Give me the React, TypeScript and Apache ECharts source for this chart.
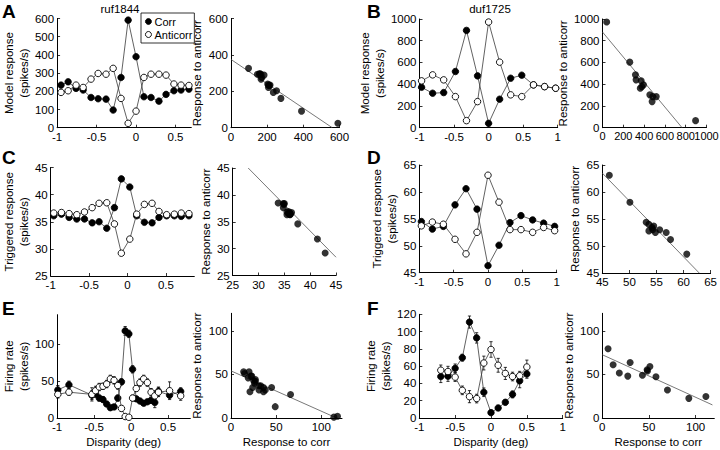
import React, { useEffect, useRef } from 'react';
import * as echarts from 'echarts';

// ---------- data ----------
const dispA = [-0.95, -0.86, -0.76, -0.67, -0.57, -0.48, -0.38, -0.29, -0.19, -0.1, 0, 0.1, 0.19, 0.29, 0.38, 0.48, 0.57, 0.67];
const corrA = [234, 252, 216, 207, 166, 159, 157, 97, 276, 591, 390, 170, 166, 146, 183, 203, 207, 212];
const antiA = [194, 203, 234, 221, 267, 298, 294, 326, 161, 24, 91, 276, 294, 294, 289, 240, 234, 232];
const fitA = [[0, 375], [560, 0]];

const dispB = [-0.97, -0.81, -0.65, -0.48, -0.32, -0.16, 0, 0.16, 0.32, 0.48, 0.65, 0.81, 0.97];
const corrB = [372, 317, 323, 517, 895, 477, 40, 262, 455, 483, 394, 378, 363];
const antiB = [431, 486, 440, 286, 65, 240, 972, 603, 302, 286, 394, 378, 363];
const fitB = [[0, 880], [765, 0]];
const ticksBScatterX = [0, 200, 400, 600, 800, 1000];

const dispC = [-0.96, -0.86, -0.76, -0.66, -0.56, -0.46, -0.37, -0.27, -0.17, -0.08, 0.03, 0.12, 0.22, 0.32, 0.41, 0.51, 0.61, 0.7, 0.8];
const corrC = [36.1, 36.4, 35.8, 35.5, 35.5, 34.8, 35.0, 33.8, 37.6, 42.9, 41.4, 36.1, 34.9, 34.8, 35.8, 36.1, 36.1, 36.0, 36.1];
const antiC = [36.6, 36.7, 36.5, 36.3, 36.8, 37.6, 38.4, 38.5, 34.6, 29.2, 31.8, 36.4, 38.2, 38.4, 36.9, 36.3, 36.4, 36.6, 36.5];
const fitC = [[28, 45], [45, 28.4]];

const dispD = [-0.97, -0.81, -0.65, -0.48, -0.32, -0.16, 0, 0.16, 0.32, 0.48, 0.65, 0.81, 0.97];
const corrD = [54.5, 53.1, 53.6, 57.6, 60.6, 56.8, 46.3, 50.1, 54.3, 55.6, 54.8, 54.2, 53.6];
const antiD = [53.7, 54.4, 54.0, 51.2, 48.5, 52.5, 63.1, 58.1, 53.0, 53.0, 52.5, 53.4, 52.8];
const fitD = [[45, 63.5], [62.9, 45]];

const dispE = [-0.99, -0.84, -0.53, -0.48, -0.43, -0.38, -0.33, -0.28, -0.23, -0.18, -0.13, -0.08, -0.03, 0.02, 0.07, 0.12, 0.17, 0.22, 0.27, 0.32, 0.37, 0.52, 0.67];
const corrE = [38, 45, 31, 33, 27, 25, 19, 14, 15, 27, 49, 118, 114, 66, 26, 23, 20, 22, 24, 21, 36, 31, 36];
const antiE = [32, 35, 32, 37, 42, 43, 46, 53, 51, 44, 13, 2, 1, 27, 40, 48, 53, 48, 35, 30, 35, 37, 30];
const errCorrE = [6, 5, 6, 5, 4, 4, 3, 3, 3, 4, 4, 6, 5, 5, 3, 3, 3, 3, 4, 7, 6, 4, 5];
const errAntiE = [5, 4, 9, 6, 5, 4, 5, 5, 5, 5, 4, 3, 2, 4, 4, 5, 5, 5, 5, 7, 6, 12, 6];
const fitE = [[0, 54], [117, 0]];

const dispF = [-0.7, -0.6, -0.5, -0.4, -0.3, -0.2, -0.1, 0, 0.1, 0.2, 0.3, 0.4, 0.5];
const corrF = [48, 48.4, 57.5, 69.8, 111, 92.7, 29.8, 6.2, 11.6, 18.2, 27.3, 43, 51];
const antiF = [55.3, 53.8, 47.3, 32, 24.7, 22.5, 63.6, 79.3, 61, 51.6, 48, 49, 59];
const errCorrF = [7, 6, 5, 4, 7, 6, 5, 2, 3, 3, 4, 8, 5];
const errAntiF = [6, 6, 5, 5, 7, 5, 8, 9, 8, 7, 5, 5, 8];
const fitF = [[0, 72.5], [118, 15]];

const titles = ['ruf1844', 'duf1725'];
const letters = ['A', 'B', 'C', 'D', 'E', 'F'];

const FONT = '"Liberation Sans", Arial, Helvetica, sans-serif';

const zip = (a: number[], b: number[]) => a.map((v, i) => [v, b[i]]);

export default function App() {
  const ref = useRef<HTMLDivElement>(null);
  useEffect(() => {
    if (!ref.current) return;
    const chart = echarts.init(ref.current, undefined, { renderer: 'svg' });

    type P = {
      left: number; top: number; width: number; height: number;
      x: number[]; y: number[]; yName: string; xName?: string; xLabelsOwn?: boolean;
    };
    const L1 = 'Model response\n(spikes/s)';
    const L2 = 'Triggered response\n(spikes/s)';
    const L3 = 'Firing rate\n(spikes/s)';
    const SN = 'Response to anticorr';
    const panels: P[] = [
      { left: 49.5, top: 18.5, width: 141.8, height: 109.2, x: [-1, 0.7, 0.5], y: [0, 600, 100], yName: L1 },
      { left: 231, top: 18.5, width: 108.5, height: 109.2, x: [0, 600, 200], y: [0, 600, 200], yName: SN },
      { left: 419.5, top: 19, width: 138.2, height: 108.7, x: [-1, 1, 0.5], y: [0, 1000, 200], yName: L1 },
      { left: 602.5, top: 19, width: 104, height: 108.7, x: [0, 1000, 200], y: [0, 1000, 200], yName: SN, xLabelsOwn: true },
      { left: 49.3, top: 167.5, width: 145, height: 108.5, x: [-1, 0.87, 0.5], y: [25, 45, 5], yName: L2 },
      { left: 232.7, top: 168, width: 103.3, height: 107.5, x: [25, 45, 5], y: [25, 45, 5], yName: SN },
      { left: 419.3, top: 165, width: 137.4, height: 107.7, x: [-1, 1, 0.5], y: [45, 65, 5], yName: L2 },
      { left: 602.3, top: 165, width: 109.4, height: 108, x: [45, 65, 5], y: [45, 65, 5], yName: SN },
      { left: 49.3, top: 314.7, width: 141, height: 109.6, x: [-1, 0.8, 0.5], y: [0, 140, 50], yName: L3, xName: 'Disparity (deg)' },
      { left: 231, top: 313.3, width: 111, height: 108.4, x: [0, 123, 50], y: [0, 120, 50], yName: SN, xName: 'Response to corr' },
      { left: 419.3, top: 314.3, width: 143.4, height: 109.7, x: [-1, 1, 0.5], y: [0, 120, 20], yName: L3, xName: 'Disparity (deg)' },
      { left: 602.3, top: 313.3, width: 112, height: 110, x: [0, 120, 50], y: [0, 120, 50], yName: SN, xName: 'Response to corr' },
    ];

    const isMult = (v: number, s: number) => Math.abs(v / s - Math.round(v / s)) < 1e-6;
    const tick = { show: true, inside: true, length: 3, interval: 0, lineStyle: { color: '#000', width: 0.8 } };
    const axLine = { show: true, onZero: false, lineStyle: { color: '#000', width: 1 } };
    const lab = (margin: number, max: number, step: number, show = true) => ({
      show, color: '#000', fontFamily: FONT, fontSize: 11.5, margin, hideOverlap: false, interval: 0,
      showMaxLabel: isMult(max, step) ? true : false,
      formatter: (v: number) => String(Math.round(v * 1000) / 1000),
    });
    const nameStyle = { color: '#000', fontFamily: FONT, fontSize: 11.5, lineHeight: 15 };

    const grid = panels.map((p) => ({ left: p.left, top: p.top, width: p.width, height: p.height, containLabel: false }));
    const xAxis = panels.map((p, i) => ({
      type: 'value', gridIndex: i, min: p.x[0], max: p.x[1], interval: p.x[2],
      axisLine: axLine, axisTick: tick, axisLabel: lab(3, p.x[1], p.x[2], !p.xLabelsOwn), splitLine: { show: false },
      name: p.xName || '', nameLocation: 'middle', nameGap: 16, nameTextStyle: nameStyle,
    }));
    const yAxis = panels.map((p, i) => ({
      type: 'value', gridIndex: i, min: p.y[0], max: p.y[1], interval: p.y[2],
      axisLine: axLine, axisTick: tick, axisLabel: lab(3, p.y[1], p.y[2]), splitLine: { show: false },
      name: p.yName, nameLocation: 'middle', nameGap: 16, nameTextStyle: nameStyle,
    }));

    const lineCol = '#3a3a3a';
    const series: any[] = [];
    const curve = (idx: number, disp: number[], corr: number[], anti: number[], names: string[]) => {
      series.push({
        type: 'line', name: names[0], xAxisIndex: idx, yAxisIndex: idx, data: zip(disp, corr),
        symbol: 'circle', symbolSize: 6.5, showSymbol: true, silent: true,
        itemStyle: { color: '#000', borderColor: '#000', borderWidth: 0.8 },
        lineStyle: { color: lineCol, width: 0.8 }, z: 3,
      });
      series.push({
        type: 'line', name: names[1], xAxisIndex: idx, yAxisIndex: idx, data: zip(disp, anti),
        symbol: 'circle', symbolSize: 6.5, showSymbol: true, silent: true,
        itemStyle: { color: '#fff', borderColor: '#000', borderWidth: 0.9 },
        lineStyle: { color: lineCol, width: 0.8 }, z: 4,
      });
    };
    const scatter = (idx: number, corr: number[], anti: number[], fit: number[][]) => {
      series.push({
        type: 'line', xAxisIndex: idx, yAxisIndex: idx, data: fit, symbol: 'none', silent: true,
        lineStyle: { color: '#555', width: 0.8 }, z: 2,
      });
      series.push({
        type: 'scatter', xAxisIndex: idx, yAxisIndex: idx, data: zip(corr, anti), symbolSize: 7, silent: true,
        itemStyle: { color: '#000' }, z: 3,
      });
    };
    const errBars = (idx: number, disp: number[], vals: number[], err: number[]) => {
      series.push({
        type: 'custom', xAxisIndex: idx, yAxisIndex: idx, silent: true, z: 2,
        data: disp.map((d, k) => [d, vals[k] - err[k], vals[k] + err[k]]),
        encode: { x: 0, y: [1, 2] },
        renderItem: (params: any, api: any) => {
          const lo = api.coord([api.value(0), api.value(1)]);
          const hi = api.coord([api.value(0), api.value(2)]);
          const w = 1.6;
          const st = { stroke: '#000', lineWidth: 0.8 };
          return {
            type: 'group',
            children: [
              { type: 'line', shape: { x1: lo[0], y1: lo[1], x2: hi[0], y2: hi[1] }, style: st },
              { type: 'line', shape: { x1: lo[0] - w, y1: lo[1], x2: lo[0] + w, y2: lo[1] }, style: st },
              { type: 'line', shape: { x1: hi[0] - w, y1: hi[1], x2: hi[0] + w, y2: hi[1] }, style: st },
            ],
          };
        },
      });
    };
    // tick labels of a crowded axis, placed through the axis scale
    const ownXLabels = (idx: number, ticks: number[], yBase: number) => {
      series.push({
        type: 'custom', xAxisIndex: idx, yAxisIndex: idx, silent: true, clip: false, z: 5,
        data: ticks.map((t) => [t, yBase]),
        encode: { x: 0, y: 1 },
        renderItem: (params: any, api: any) => {
          const p = api.coord([api.value(0), api.value(1)]);
          return {
            type: 'text', x: p[0], y: p[1] + 3,
            style: { text: String(api.value(0)), font: `11px ${FONT}`, fill: '#000', align: 'center', verticalAlign: 'top' },
          };
        },
      });
    };

    curve(0, dispA, corrA, antiA, ['Corr', 'Anticorr']);
    scatter(1, corrA, antiA, fitA);
    curve(2, dispB, corrB, antiB, ['corrB', 'antiB']);
    scatter(3, corrB, antiB, fitB);
    ownXLabels(3, ticksBScatterX, 0);
    curve(4, dispC, corrC, antiC, ['corrC', 'antiC']);
    scatter(5, corrC, antiC, fitC);
    curve(6, dispD, corrD, antiD, ['corrD', 'antiD']);
    scatter(7, corrD, antiD, fitD);
    errBars(8, dispE, corrE, errCorrE);
    errBars(8, dispE, antiE, errAntiE);
    curve(8, dispE, corrE, antiE, ['corrE', 'antiE']);
    scatter(9, corrE, antiE, fitE);
    errBars(10, dispF, corrF, errCorrF);
    errBars(10, dispF, antiF, errAntiF);
    curve(10, dispF, corrF, antiF, ['corrF', 'antiF']);
    scatter(11, corrF, antiF, fitF);

    const letterPos = [[2, 11], [367, 11], [2, 157], [367, 157], [2, 308], [367, 308]];
    const graphic: any[] = letters.map((t, i) => ({
      type: 'text', x: letterPos[i][0], y: letterPos[i][1], silent: true,
      style: { text: t, font: `bold 19px ${FONT}`, fill: '#000', align: 'left', verticalAlign: 'middle' },
    }));
    const titlePos = [[120, 8.5], [490, 8.5]];
    titles.forEach((t, i) => graphic.push({
      type: 'text', x: titlePos[i][0], y: titlePos[i][1], silent: true,
      style: { text: t, font: `11.5px ${FONT}`, fill: '#000', align: 'center', verticalAlign: 'middle' },
    }));

    chart.setOption({
      animation: false,
      backgroundColor: '#fff',
      grid, xAxis, yAxis, series, graphic,
      legend: {
        left: 141, top: 13, orient: 'vertical', selectedMode: false,
        padding: [3, 2, 3, 4], itemGap: 2, itemWidth: 6, itemHeight: 6,
        borderColor: '#000', borderWidth: 0.8, backgroundColor: '#fff',
        textStyle: { color: '#000', fontFamily: FONT, fontSize: 11, padding: [0, 0, 0, -2] },
        data: [
          { name: 'Corr', icon: 'circle', itemStyle: { color: '#000', borderColor: '#000', borderWidth: 0.8 } },
          { name: 'Anticorr', icon: 'circle', itemStyle: { color: '#fff', borderColor: '#000', borderWidth: 0.9 } },
        ],
      },
    });
    return () => chart.dispose();
  }, []);
  return <div ref={ref} style={{ width: 720, height: 450, position: 'absolute', left: 0, top: 0, background: '#fff' }} />;
}
